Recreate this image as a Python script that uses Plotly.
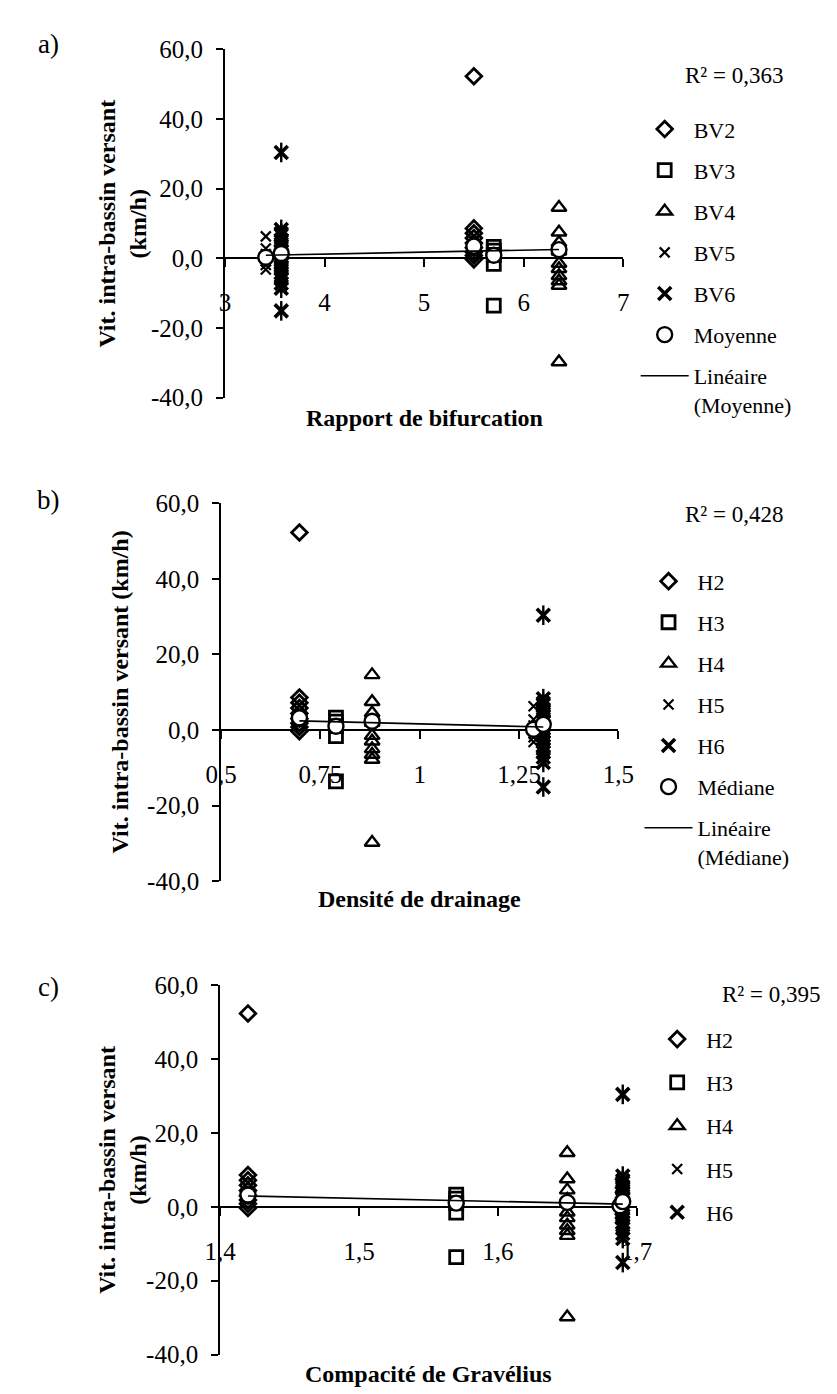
import numpy as np
import plotly.graph_objects as go

W, H = 837, 1394
FONT = "Liberation Serif, Times New Roman, serif"

# ---- data ----
H2 = [52.3, 8.6, 7.2, 5.8, 4.4, 3.0, 1.8, 0.8, -0.3]
H3 = [3.3, 2.2, 1.0, -1.6, -13.6]
H4 = [14.6, 7.5, 4.5, 2.0, -1.5, -3.0, -5.0, -6.5, -7.8, -29.8]
H5 = [6.3, 2.8, 1.2, 0.3, -0.8, -1.9, -3.2]
H6 = [30.4, 8.3, 7.1, 6.6, 5.2, 4.8, 3.5, 2.9, 2.1, 1.2, 0.4, -0.6, -1.5,
      -2.4, -3.1, -4.2, -5.0, -5.9, -7.2, -8.6, -15.1]

# x position of each basin group in the three panels
x_bifurcation = [5.50, 5.70, 6.355, 3.41, 3.565]
x_drainage = [0.697, 0.789, 0.880, 1.2865, 1.311]
x_gravelius = [1.42, 1.570, 1.650, 1.688, 1.690]

# central value (circle) of each group, per panel
centre_a = [3.5, 0.9, 2.5, 0.3, 1.4]
centre_b = [3.2, 1.0, 2.3, 0.2, 1.5]
centre_c = [3.2, 1.0, 1.2, 0.3, 1.4]

r2_text = ["R² = 0,363", "R² = 0,428", "R² = 0,395"]
names_a = ["BV2", "BV3", "BV4", "BV5", "BV6"]
names_h = ["H2", "H3", "H4", "H5", "H6"]

xticks_a = [3, 4, 5, 6, 7]
xticklabels_a = ["3", "4", "5", "6", "7"]
xticks_b = [0.5, 0.75, 1.0, 1.25, 1.5]
xticklabels_b = ["0,5", "0,75", "1", "1,25", "1,5"]
xticks_c = [1.4, 1.5, 1.6, 1.7]
xticklabels_c = ["1,4", "1,5", "1,6", "1,7"]
yticks = [-40, -20, 0, 20, 40, 60]
yticklabels = ["-40,0", "-20,0", "0,0", "20,0", "40,0", "60,0"]

series_values = [H2, H3, H4, H5, H6]

# ---- styling ----
symbols = ["diamond-open", "square-open", "triangle-up-open", "x-thin-open", "x-thin-open"]
sizes = [12, 13, 13, 10, 13]
widths = [2.8, 2.8, 2.4, 2.2, 3.6]

panels = [
    dict(letter="a)", xs=x_bifurcation, centre=centre_a, names=names_a,
         xr=[3, 7], xt=xticks_a, xl=xticklabels_a, title="Rapport de bifurcation",
         px=(209, 623), py=(29, 384), circle_name="Moyenne", line_name="Linéaire<br>(Moyenne)",
         show_circ=True, ytitle="Vit. intra-bassin versant<br>(km/h)", ytx=102,
         r2=r2_text[0], r2xy=(738, 56), leg=(636, 89), gap=9.5, xtitle_y=405, letter_y=23),
    dict(letter="b)", xs=x_drainage, centre=centre_b, names=names_h,
         xr=[0.5, 1.5], xt=xticks_b, xl=xticklabels_b, title="Densité de drainage",
         px=(205, 618), py=(492, 877), circle_name="Médiane", line_name="Linéaire<br>(Médiane)",
         show_circ=True, ytitle="Vit. intra-bassin versant (km/h)", ytx=100,
         r2=r2_text[1], r2xy=(738, 503), leg=(640, 550), gap=9.5, xtitle_y=895, letter_y=488),
    dict(letter="c)", xs=x_gravelius, centre=centre_c, names=names_h,
         xr=[1.4, 1.7], xt=xticks_c, xl=xticklabels_c, title="Compacité de Gravélius",
         px=(204, 637), py=(983, 1360), circle_name="Médiane", line_name="Linéaire",
         show_circ=False, ytitle="Vit. intra-bassin versant<br>(km/h)", ytx=103,
         r2=r2_text[2], r2xy=(777, 993), leg=(649, 1017), gap=11.7, xtitle_y=1380, letter_y=985),
]

fig = go.Figure()
annotations = []
YR = [-40, 60]

for i, p in enumerate(panels):
    k = "" if i == 0 else str(i + 1)
    xa, ya = "x" + k, "y" + k
    legname = "legend" + k
    for j in range(5):
        vals = series_values[j]
        fig.add_trace(go.Scatter(
            x=[p["xs"][j]] * len(vals), y=vals, mode="markers", name=p["names"][j],
            xaxis=xa, yaxis=ya, legend=legname, legendgroup=f"{i}-{j}",
            cliponaxis=False,
            marker=dict(symbol=symbols[j], size=sizes[j], color="black",
                        line=dict(color="black", width=widths[j]))))
        if j == 4:
            # vertical bar of the star marker
            fig.add_trace(go.Scatter(
                x=[p["xs"][j]] * len(vals), y=vals, mode="markers", name=p["names"][j],
                xaxis=xa, yaxis=ya, legend=legname, legendgroup=f"{i}-{j}",
                showlegend=False, cliponaxis=False,
                marker=dict(symbol="line-ns-open", size=14, color="black",
                            line=dict(color="black", width=2.4))))
    fig.add_trace(go.Scatter(
        x=p["xs"], y=p["centre"], mode="markers", name=p["circle_name"],
        xaxis=xa, yaxis=ya, legend=legname, legendgroup=f"{i}-c",
        showlegend=p["show_circ"], cliponaxis=False,
        marker=dict(symbol="circle", size=15, color="white",
                    line=dict(color="black", width=2.4))))
    # linear trend of the central values
    coef = np.polyfit(p["xs"], p["centre"], 1)
    lx = np.array([min(p["xs"]), max(p["xs"])])
    fig.add_trace(go.Scatter(
        x=lx, y=np.polyval(coef, lx), mode="lines", name=p["line_name"],
        xaxis=xa, yaxis=ya, legend=legname, legendgroup=f"{i}-l",
        showlegend=p["show_circ"], line=dict(color="black", width=1.6)))

    x0, x1 = p["px"][0] / W, p["px"][1] / W
    d0, d1 = 1 - p["py"][1] / H, 1 - p["py"][0] / H
    zero_pos = d0 + (0 - YR[0]) / (YR[1] - YR[0]) * (d1 - d0)

    fig.update_layout(**{
        "xaxis" + k: dict(domain=[x0, x1], range=p["xr"], anchor="free", position=zero_pos,
                          tickvals=p["xt"], ticktext=p["xl"], showline=True, linecolor="black",
                          linewidth=2, ticks="outside", ticklen=8, tickwidth=1.5,
                          tickcolor="black", showgrid=False, zeroline=False,
                          ticklabelstandoff=14, layer="below traces",
                          tickfont=dict(family=FONT, size=25, color="black")),
        "yaxis" + k: dict(domain=[d0, d1], range=YR, anchor=xa, tickvals=yticks,
                          ticktext=yticklabels, showline=True, linecolor="black",
                          linewidth=2, ticks="outside", ticklen=7, tickwidth=1.5,
                          tickcolor="black", showgrid=False, zeroline=False,
                          ticklabelstandoff=8, layer="below traces",
                          tickfont=dict(family=FONT, size=25, color="black")),
        legname: dict(x=p["leg"][0] / W, y=1 - p["leg"][1] / H, xanchor="left", yanchor="top",
                      itemwidth=48, tracegroupgap=p["gap"], valign="top",
                      bgcolor="rgba(0,0,0,0)", itemsizing="trace",
                      font=dict(family=FONT, size=22, color="black")),
    })

    annotations += [
        dict(text=p["letter"], x=25 / W, y=1 - p["letter_y"] / H, xref="paper", yref="paper",
             showarrow=False, xanchor="center", yanchor="middle",
             font=dict(family=FONT, size=27, color="black")),
        dict(text=p["r2"], x=p["r2xy"][0] / W, y=1 - p["r2xy"][1] / H, xref="paper", yref="paper",
             showarrow=False, xanchor="center", yanchor="middle",
             font=dict(family=FONT, size=23, color="black")),
        dict(text="<b>" + p["title"] + "</b>", x=(p["px"][0] + p["px"][1]) / 2 / W,
             y=1 - p["xtitle_y"] / H, xref="paper", yref="paper", showarrow=False,
             xanchor="center", yanchor="middle",
             font=dict(family=FONT, size=24, color="black")),
        dict(text="<b>" + p["ytitle"] + "</b>", x=p["ytx"] / W,
             y=1 - (p["py"][0] + p["py"][1]) / 2 / H, xref="paper", yref="paper",
             showarrow=False, textangle=-90, xanchor="center", yanchor="middle",
             font=dict(family=FONT, size=24, color="black")),
    ]

fig.update_layout(width=W, height=H, autosize=False, margin=dict(l=0, r=0, t=0, b=0),
                  paper_bgcolor="white", plot_bgcolor="white", annotations=annotations,
                  separators=", ", font=dict(family=FONT, color="black"))

fig.write_html("out.html")
